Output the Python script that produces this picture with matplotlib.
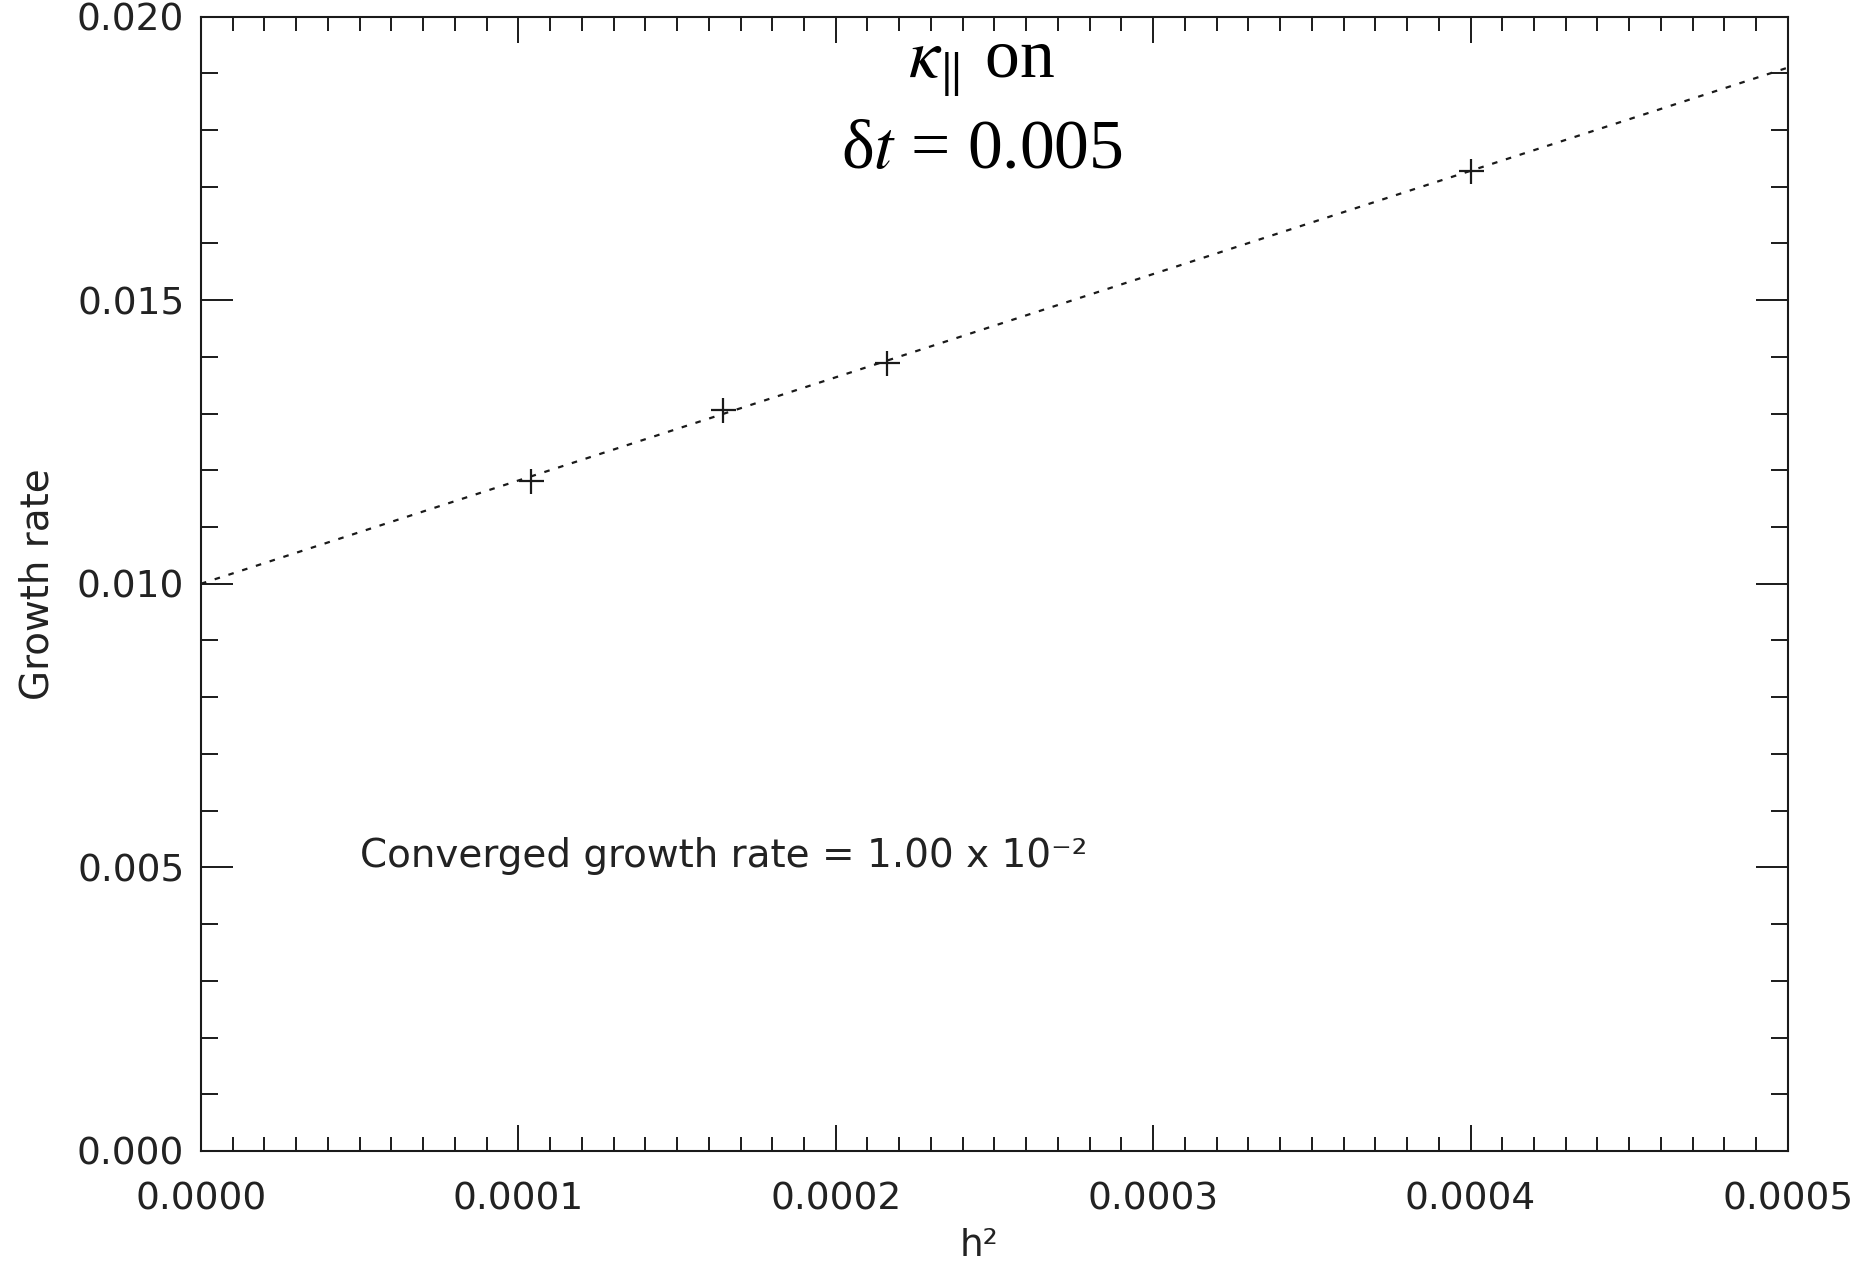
import matplotlib
matplotlib.use("Agg")
import matplotlib.pyplot as plt
from matplotlib.ticker import MultipleLocator, FormatStrFormatter

# Resolution study: growth rate against squared grid spacing
h_squared = [0.0001041, 0.0001644, 0.0002163, 0.0004000]
growth_rate = [0.01182, 0.01307, 0.01390, 0.01727]

# Linear extrapolation to h^2 -> 0
fit_x = [0.0, 0.0005]
fit_y = [0.0100, 0.0191]
converged_text = "Converged growth rate = 1.00 x 10⁻²"

x_ticks = [0.0000, 0.0001, 0.0002, 0.0003, 0.0004, 0.0005]
y_ticks = [0.000, 0.005, 0.010, 0.015, 0.020]

plt.rcParams["mathtext.fontset"] = "stix"
ink = "#1a1a1a"
txt = "#222222"

fig = plt.figure(figsize=(18.57, 12.63), dpi=100)
ax = fig.add_axes([0.1082, 0.0887, 0.9628 - 0.1082, 0.9869 - 0.0887])

ax.plot(fit_x, fit_y, color=ink, lw=1.6, linestyle=(0, (2.5, 4.0)))
ax.plot(h_squared, growth_rate, linestyle="none", marker="+", markersize=18,
        markeredgewidth=1.6, color=ink)

ax.set_xlim(x_ticks[0], x_ticks[-1])
ax.set_ylim(y_ticks[0], y_ticks[-1])
ax.set_xticks(x_ticks)
ax.set_yticks(y_ticks)
ax.xaxis.set_minor_locator(MultipleLocator(0.00001))
ax.yaxis.set_minor_locator(MultipleLocator(0.001))
ax.xaxis.set_major_formatter(FormatStrFormatter("%.4f"))
ax.yaxis.set_major_formatter(FormatStrFormatter("%.3f"))

for s in ax.spines.values():
    s.set_linewidth(1.5)
    s.set_color(ink)

ax.tick_params(axis="both", which="both", direction="in", top=True, right=True,
               color=ink, width=1.4, labelcolor=txt, labelsize=27)
ax.tick_params(axis="x", which="major", length=19, pad=22)
ax.tick_params(axis="x", which="minor", length=10)
ax.tick_params(axis="y", which="major", length=23, pad=12)
ax.tick_params(axis="y", which="minor", length=12)

ax.set_xlabel("h²", fontsize=27, color=txt)
ax.set_ylabel("Growth rate", fontsize=28, color=txt)
ax.xaxis.set_label_coords(0.49, -0.068)
ax.yaxis.set_label_coords(-0.091, 0.5)

ax.text(0.00005, 0.0052, converged_text,
        fontsize=28, color=txt, va="center", ha="left")

serif = ["Liberation Serif", "DejaVu Serif"]
fig.text(0.5288, 0.9375, r"$\kappa_{\Vert}$ on", fontsize=50, family=serif,
         ha="center", va="baseline", color="black")
fig.text(0.5288, 0.867, r"δ$t$ = 0.005", fontsize=50, family=serif,
         ha="center", va="baseline", color="black")

fig.savefig("out.png", dpi=100, facecolor="white")
